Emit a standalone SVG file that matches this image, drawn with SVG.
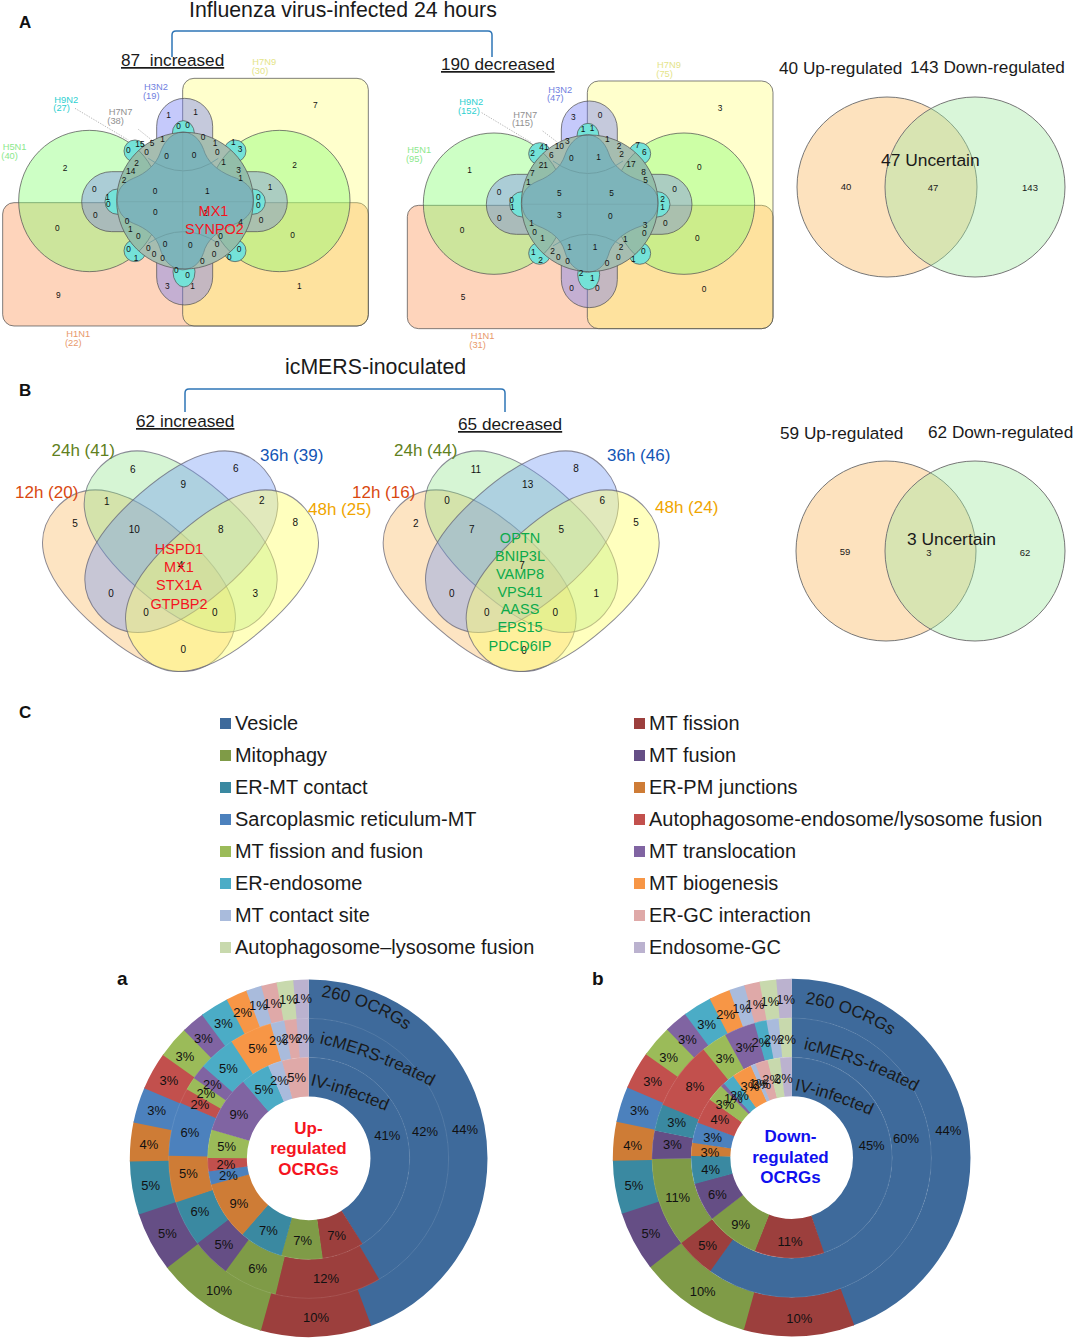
<svg xmlns="http://www.w3.org/2000/svg" xmlns:xlink="http://www.w3.org/1999/xlink" width="1073" height="1339" viewBox="0 0 1073 1339">
<style>
text{font-family:"Liberation Sans",Arial,sans-serif;fill:#1a1a1a}
.n{font-size:25px;text-anchor:middle;dominant-baseline:central;fill:#111}
.n4{font-size:30px;text-anchor:middle;dominant-baseline:central;fill:#111}
.p{font-size:39px;text-anchor:middle;dominant-baseline:central;fill:#111}
.arc{font-size:51px;fill:#1a1a1a}
.s{font-size:28px}
.h{font-size:21.3px}
.u{font-size:17.2px;text-decoration:underline}
.t{font-size:17.2px}
.unc{font-size:17.4px}
.m{font-size:9.500px;text-anchor:middle;dominant-baseline:central}
.tl{font-size:17px}
.panel{font-size:17px;font-weight:bold;fill:#111}
.lg{font-size:19.95px}
.ctr{font-size:17px;font-weight:bold;text-anchor:middle}
.gr{font-size:14.5px;text-anchor:middle;fill:#0BAA4B}
.rd{font-size:14.5px;text-anchor:middle;fill:#F5141E}
.ln{stroke:#555;stroke-opacity:.75;stroke-width:3}
.e{stroke:#667;stroke-opacity:.75;stroke-width:3}
.bracket{fill:none;stroke:#2E75B6;stroke-width:1.5}
.dot{stroke:#aaa;stroke-width:2.5;stroke-dasharray:4 4;fill:none}
circle.r{fill:none;transform:rotate(-90deg);transform-box:view-box;transform-origin:0 0}
.r1{stroke-width:118px}.r2{stroke-width:118px}.r3{stroke-width:118px}
.c1{stroke:#3E6A9B}.c2{stroke:#9C3F3D}.c3{stroke:#7F9B47}.c4{stroke:#654E85}.c5{stroke:#3A89A1}.c6{stroke:#CE7C36}
.c7{stroke:#4C81BD}.c8{stroke:#C2504D}.c9{stroke:#9BBB59}.c10{stroke:#8064A2}.c11{stroke:#4BACC6}.c12{stroke:#F79646}
.c13{stroke:#A9BBDC}.c14{stroke:#DFA9A8}.c15{stroke:#C8D9AD}.c16{stroke:#BBB2CF}
.f1{fill:#3E6A9B}.f2{fill:#9C3F3D}.f3{fill:#7F9B47}.f4{fill:#654E85}.f5{fill:#3A89A1}.f6{fill:#CE7C36}
.f7{fill:#4C81BD}.f8{fill:#C2504D}.f9{fill:#9BBB59}.f10{fill:#8064A2}.f11{fill:#4BACC6}.f12{fill:#F79646}
.f13{fill:#A9BBDC}.f14{fill:#DFA9A8}.f15{fill:#C8D9AD}.f16{fill:#BBB2CF}
</style>
<defs>
<clipPath id="cc"><circle cx="555" cy="452" r="205"/></clipPath>
<g id="venn6">
<rect x="8" y="458" width="1097" height="370" rx="34" fill="#FDAA78" fill-opacity=".5" class="ln"/>
<rect x="548" y="85" width="557" height="743" rx="34" fill="#FFFF64" fill-opacity=".33" class="ln"/>
<circle cx="268" cy="453" r="212" fill="#82FF6E" fill-opacity=".4" class="ln"/>
<circle cx="838" cy="453" r="212" fill="#82FF6E" fill-opacity=".4" class="ln"/>
<rect x="245" y="365" width="617" height="180" rx="90" fill="#5C58FF" fill-opacity=".3" class="ln"/>
<rect x="470" y="145" width="168" height="620" rx="84" fill="#6E78F5" fill-opacity=".4" class="ln"/>
<g fill="#74E2D8" class="ln">
<circle cx="405" cy="303" r="33"/><circle cx="705" cy="303" r="33"/><circle cx="405" cy="602" r="33"/><circle cx="705" cy="602" r="33"/>
<circle cx="353" cy="455" r="38"/><circle cx="758" cy="455" r="38"/>
<ellipse cx="550" cy="250" rx="33" ry="38"/><ellipse cx="552" cy="665" rx="33" ry="46"/>
</g>
<circle cx="555" cy="452" r="205" fill="#A6BDB0"/>
<g clip-path="url(#cc)" fill="#78C0A0" fill-opacity=".4" stroke="#6b8f88" stroke-width="2.5">
<circle cx="268" cy="453" r="212"/><circle cx="838" cy="453" r="212"/>
</g>
<path d="M352 450C352 420 365 400 400 385C440 370 470 340 480 310C490 280 510 250 548 245C590 250 605 280 615 310C630 345 665 370 710 385C745 400 760 420 760 450C760 480 745 505 710 520C665 535 630 560 615 595C605 630 590 655 548 660C510 655 490 630 480 595C470 560 440 535 400 520C365 505 352 480 352 450Z" fill="#7DB4BA" stroke="#6a8d92" stroke-width="2.5"/>
<path d="M445 325Q550 400 655 325M445 580Q550 510 655 580" fill="none" stroke="#6b9ba0" stroke-width="2.5"/>
<path d="M548 245V660M352 455H760" fill="none" stroke="#74a6ab" stroke-width="2"/>
<circle cx="555" cy="452" r="205" fill="none" class="ln"/>
</g>
<path id="eg" d="M-330 0C-330 -125 -216 -190 0 -190C216 -190 330 -125 330 0C330 125 216 190 0 190C-216 190 -330 125 -330 0Z"/>
<g id="ell4">
<use href="#eg" transform="translate(327 482) rotate(41)" fill="#FABE6E" fill-opacity=".42" class="e"/>
<use href="#eg" transform="translate(452 365) rotate(41)" fill="#82E17D" fill-opacity=".33" class="e"/>
<use href="#eg" transform="translate(454 365) rotate(-41)" fill="#6E96F5" fill-opacity=".38" class="e"/>
<use href="#eg" transform="translate(576 482) rotate(-41)" fill="#FFFF6E" fill-opacity=".45" class="e"/>
</g>
<g id="outerRing">
<circle class="r r3 c1" r="477.5" pathLength="100" stroke-dasharray="44.4 100"/>
<circle class="r r3 c2" r="477.5" pathLength="100" stroke-dasharray="10.1 100" stroke-dashoffset="-44.3"/>
<circle class="r r3 c3" r="477.5" pathLength="100" stroke-dasharray="10.3 100" stroke-dashoffset="-54.3"/>
<circle class="r r3 c4" r="477.5" pathLength="100" stroke-dasharray="5.5 100" stroke-dashoffset="-64.5"/>
<circle class="r r3 c5" r="477.5" pathLength="100" stroke-dasharray="4.9 100" stroke-dashoffset="-69.9"/>
<circle class="r r3 c6" r="477.5" pathLength="100" stroke-dasharray="3.6 100" stroke-dashoffset="-74.7"/>
<circle class="r r3 c7" r="477.5" pathLength="100" stroke-dasharray="3.3 100" stroke-dashoffset="-78.2"/>
<circle class="r r3 c8" r="477.5" pathLength="100" stroke-dasharray="3.5 100" stroke-dashoffset="-81.4"/>
<circle class="r r3 c9" r="477.5" pathLength="100" stroke-dasharray="3 100" stroke-dashoffset="-84.8"/>
<circle class="r r3 c10" r="477.5" pathLength="100" stroke-dasharray="2.2 100" stroke-dashoffset="-87.7"/>
<circle class="r r3 c11" r="477.5" pathLength="100" stroke-dasharray="2.7 100" stroke-dashoffset="-89.8"/>
<circle class="r r3 c12" r="477.5" pathLength="100" stroke-dasharray="2 100" stroke-dashoffset="-92.4"/>
<circle class="r r3 c13" r="477.5" pathLength="100" stroke-dasharray="1.5 100" stroke-dashoffset="-94.3"/>
<circle class="r r3 c14" r="477.5" pathLength="100" stroke-dasharray="1.5 100" stroke-dashoffset="-95.7"/>
<circle class="r r3 c15" r="477.5" pathLength="100" stroke-dasharray="1.6 100" stroke-dashoffset="-97.1"/>
<circle class="r r3 c16" r="477.5" pathLength="100" stroke-dasharray="1.4 100" stroke-dashoffset="-98.6"/>
</g>
<path id="a1" d="M603 65Q745 85 868 172"/>
<path id="a2" d="M598 205Q780 250 944 340"/>
<path id="a3" d="M570 330Q690 360 808 412"/>
<path id="b1" d="M585 85Q725 105 852 187"/>
<path id="b2" d="M580 222Q760 265 925 355"/>
<path id="b3" d="M553 345Q670 370 795 427"/>
</defs>

<rect width="1073" height="1339" fill="#fff"/>

<g id="connectors">
<path class="bracket" d="M172 57V35Q172 31 176 31H488Q492 31 492 35V57"/>
<path class="bracket" d="M185 412V393Q185 389 189 389H501Q505 389 505 393V412"/>
<g transform="translate(0,50) scale(.33333)">
<path class="dot" d="M225 175L385 270M415 238L455 270"/>
</g>
<g transform="translate(400,50) scale(.33333)">
<path class="dot" d="M245 188L395 278M428 243L470 275"/>
</g>
</g>

<g id="titles">
<text class="panel" x="19" y="28">A</text>
<text class="panel" x="19" y="396">B</text>
<text class="panel" x="19" y="718">C</text>
<text class="h" x="189" y="17">Influenza virus-infected 24 hours</text>
<text class="h" x="285" y="374">icMERS-inoculated</text>
<text class="u" x="121" y="66" xml:space="preserve">87  increased</text>
<text class="u" x="441" y="70">190 decreased</text>
<text class="u" x="136" y="427">62 increased</text>
<text class="u" x="458" y="430">65 decreased</text>
</g>

<g id="venn-increased" transform="translate(0,50) scale(.33333)">
<use href="#venn6"/>
<text class="n" x="946" y="166">7</text><text class="n" x="195" y="353">2</text><text class="n" x="884" y="345">2</text><text class="n" x="506" y="195">1</text><text class="n" x="587" y="187">1</text><text class="n" x="536" y="228">0</text><text class="n" x="563" y="226">0</text><text class="n" x="488" y="266">1</text><text class="n" x="609" y="262">0</text><text class="n" x="645" y="280">1</text><text class="n" x="700" y="276">1</text><text class="n" x="720" y="298">3</text><text class="n" x="420" y="283">15</text><text class="n" x="456" y="279">5</text><text class="n" x="385" y="300">0</text><text class="n" x="440" y="307">0</text><text class="n" x="500" y="318">0</text><text class="n" x="582" y="314">0</text><text class="n" x="652" y="306">0</text><text class="n" x="671" y="335">1</text><text class="n" x="410" y="338">2</text><text class="n" x="392" y="362">14</text><text class="n" x="716" y="360">3</text><text class="n" x="722" y="383">1</text><text class="n" x="372" y="390">2</text><text class="n" x="810" y="410">1</text><text class="n" x="283" y="418">0</text><text class="n" x="465" y="422">0</text><text class="n" x="622" y="422">1</text><text class="n" x="323" y="442">1</text><text class="n" x="325" y="462">0</text><text class="n" x="775" y="440">0</text><text class="n" x="775" y="466">0</text><text class="n" x="466" y="487">0</text><text class="n" x="617" y="490">2</text><text class="n" x="286" y="495">0</text><text class="n" x="381" y="512">0</text><text class="n" x="722" y="515">4</text><text class="n" x="783" y="511">0</text><text class="n" x="391" y="538">1</text><text class="n" x="172" y="533">0</text><text class="n" x="878" y="556">0</text><text class="n" x="415" y="557">0</text><text class="n" x="662" y="558">0</text><text class="n" x="495" y="583">0</text><text class="n" x="571" y="585">0</text><text class="n" x="651" y="583">0</text><text class="n" x="445" y="594">0</text><text class="n" x="386" y="598">0</text><text class="n" x="717" y="596">0</text><text class="n" x="642" y="613">0</text><text class="n" x="462" y="612">0</text><text class="n" x="488" y="625">0</text><text class="n" x="607" y="632">0</text><text class="n" x="688" y="620">0</text><text class="n" x="408" y="623">1</text><text class="n" x="529" y="661">0</text><text class="n" x="563" y="676">0</text><text class="n" x="502" y="708">3</text><text class="n" x="578" y="708">1</text><text class="n" x="898" y="709">1</text><text class="n" x="175" y="734">9</text>
<g class="s">
<text class="s" x="8" y="301" style="fill:#8CE88C">H5N1</text><text class="s" x="4" y="328" style="fill:#8CE88C">(40)</text>
<text class="s" x="163" y="158" style="fill:#2ED0D0">H9N2</text><text class="s" x="160" y="184" style="fill:#2ED0D0">(27)</text>
<text class="s" x="326" y="196" style="fill:#909090">H7N7</text><text class="s" x="322" y="222" style="fill:#909090">(38)</text>
<text class="s" x="432" y="121" style="fill:#7080E0">H3N2</text><text class="s" x="429" y="146" style="fill:#7080E0">(19)</text>
<text class="s" x="757" y="46" style="fill:#E4E488">H7N9</text><text class="s" x="755" y="72" style="fill:#E4E488">(30)</text>
<text class="s" x="199" y="860" style="fill:#E8986A">H1N1</text><text class="s" x="195" y="887" style="fill:#E8986A">(22)</text>
</g>
</g>
<g id="genes-a"><text class="rd" x="213.500" y="216">MX1</text><text class="rd" x="214.500" y="234">SYNPO2</text></g>

<g id="venn-decreased" transform="translate(400,50) scale(.33333)">
<use href="#venn6" x="14" y="8"/>
<text class="n" x="960" y="173">3</text><text class="n" x="209" y="361">1</text><text class="n" x="898" y="351">0</text><text class="n" x="520" y="201">3</text><text class="n" x="600" y="195">0</text><text class="n" x="549" y="236">1</text><text class="n" x="576" y="233">1</text><text class="n" x="502" y="273">3</text><text class="n" x="622" y="268">1</text><text class="n" x="657" y="288">2</text><text class="n" x="713" y="284">7</text><text class="n" x="733" y="305">6</text><text class="n" x="432" y="290">41</text><text class="n" x="478" y="287">10</text><text class="n" x="398" y="309">2</text><text class="n" x="454" y="315">6</text><text class="n" x="514" y="325">0</text><text class="n" x="596" y="321">1</text><text class="n" x="665" y="313">2</text><text class="n" x="693" y="343">17</text><text class="n" x="430" y="345">21</text><text class="n" x="397" y="368">7</text><text class="n" x="731" y="365">8</text><text class="n" x="737" y="390">5</text><text class="n" x="385" y="397">1</text><text class="n" x="824" y="417">0</text><text class="n" x="297" y="425">0</text><text class="n" x="478" y="429">5</text><text class="n" x="635" y="429">5</text><text class="n" x="335" y="449">0</text><text class="n" x="337" y="470">1</text><text class="n" x="788" y="447">2</text><text class="n" x="788" y="472">1</text><text class="n" x="478" y="495">3</text><text class="n" x="631" y="497">0</text><text class="n" x="298" y="503">0</text><text class="n" x="395" y="519">1</text><text class="n" x="735" y="524">3</text><text class="n" x="796" y="518">0</text><text class="n" x="404" y="545">0</text><text class="n" x="733" y="550">0</text><text class="n" x="428" y="565">1</text><text class="n" x="676" y="566">1</text><text class="n" x="186" y="540">0</text><text class="n" x="892" y="563">0</text><text class="n" x="509" y="590">1</text><text class="n" x="585" y="592">1</text><text class="n" x="663" y="590">2</text><text class="n" x="458" y="602">2</text><text class="n" x="400" y="605">1</text><text class="n" x="730" y="603">0</text><text class="n" x="475" y="620">0</text><text class="n" x="503" y="632">0</text><text class="n" x="655" y="620">0</text><text class="n" x="621" y="640">0</text><text class="n" x="422" y="630">2</text><text class="n" x="700" y="627">1</text><text class="n" x="543" y="669">2</text><text class="n" x="577" y="683">1</text><text class="n" x="515" y="715">0</text><text class="n" x="592" y="715">0</text><text class="n" x="912" y="716">0</text><text class="n" x="189" y="741">5</text>
<text class="s" x="22" y="308" style="fill:#8CE88C">H5N1</text><text class="s" x="18" y="335" style="fill:#8CE88C">(95)</text>
<text class="s" x="178" y="166" style="fill:#2ED0D0">H9N2</text><text class="s" x="174" y="192" style="fill:#2ED0D0">(152)</text>
<text class="s" x="340" y="203" style="fill:#909090">H7N7</text><text class="s" x="336" y="229" style="fill:#909090">(115)</text>
<text class="s" x="445" y="129" style="fill:#7080E0">H3N2</text><text class="s" x="441" y="154" style="fill:#7080E0">(47)</text>
<text class="s" x="771" y="53" style="fill:#E4E488">H7N9</text><text class="s" x="769" y="80" style="fill:#E4E488">(75)</text>
<text class="s" x="212" y="867" style="fill:#E8986A">H1N1</text><text class="s" x="208" y="893" style="fill:#E8986A">(31)</text>
</g>

<g id="venn2-a">
<circle cx="887" cy="187" r="90" fill="#FABE6E" fill-opacity=".45" stroke="#777" stroke-width="1"/>
<circle cx="975" cy="187" r="90" fill="#9FE8A0" fill-opacity=".4" stroke="#777" stroke-width="1"/>
<text class="t" x="779" y="74">40 Up-regulated</text>
<text class="t" x="910" y="73">143 Down-regulated</text>
<text class="unc" x="881" y="166">47 Uncertain</text>
<text class="m" x="846" y="186">40</text><text class="m" x="933" y="187">47</text><text class="m" x="1030" y="187">143</text>
</g>

<g id="venn4-increased" transform="translate(30,420) scale(.33333)">
<use href="#ell4"/>
<text class="n4" x="308" y="150">6</text><text class="n4" x="617" y="147">6</text><text class="n4" x="460" y="193">9</text><text class="n4" x="230" y="245">1</text><text class="n4" x="695" y="243">2</text><text class="n4" x="135" y="310">5</text><text class="n4" x="796" y="308">8</text><text class="n4" x="313" y="330">10</text><text class="n4" x="572" y="328">8</text><text class="n4" x="452" y="438">4</text><text class="n4" x="243" y="520">0</text><text class="n4" x="676" y="520">3</text><text class="n4" x="348" y="578">0</text><text class="n4" x="554" y="578">0</text><text class="n4" x="460" y="690">0</text>
</g>
<g id="genes-b1"><text class="rd" x="179" y="554">HSPD1</text><text class="rd" x="179" y="572">MX1</text><text class="rd" x="179" y="590">STX1A</text><text class="rd" x="179" y="609">GTPBP2</text></g>
<g id="labels-b1">
<text class="tl" x="51.500" y="456" style="fill:#5F8020">24h (41)</text><text class="tl" x="260" y="461" style="fill:#1255B5">36h (39)</text><text class="tl" x="15" y="498" style="fill:#D9480F">12h (20)</text><text class="tl" x="308" y="515" style="fill:#F0A500">48h (25)</text>
</g>

<g id="venn4-decreased" transform="translate(370,420) scale(.33333)">
<use href="#ell4" x="2"/>
<text class="n4" x="318" y="150">11</text><text class="n4" x="618" y="147">8</text><text class="n4" x="473" y="193">13</text><text class="n4" x="231" y="243">0</text><text class="n4" x="697" y="243">6</text><text class="n4" x="137" y="310">2</text><text class="n4" x="798" y="308">5</text><text class="n4" x="305" y="329">7</text><text class="n4" x="574" y="328">5</text><text class="n4" x="456" y="438">7</text><text class="n4" x="245" y="520">0</text><text class="n4" x="679" y="521">1</text><text class="n4" x="350" y="578">0</text><text class="n4" x="556" y="578">0</text><text class="n4" x="462" y="692">0</text>
</g>
<g id="genes-b2"><text class="gr" x="520" y="543">OPTN</text><text class="gr" x="520" y="561">BNIP3L</text><text class="gr" x="520" y="579">VAMP8</text><text class="gr" x="520" y="597">VPS41</text><text class="gr" x="520" y="614">AASS</text><text class="gr" x="520" y="632">EPS15</text><text class="gr" x="520" y="651">PDCD6IP</text></g>
<g id="labels-b2">
<text class="tl" x="394" y="456" style="fill:#5F8020">24h (44)</text><text class="tl" x="607" y="461" style="fill:#1255B5">36h (46)</text><text class="tl" x="352" y="498" style="fill:#D9480F">12h (16)</text><text class="tl" x="655" y="513" style="fill:#F0A500">48h (24)</text>
</g>

<g id="venn2-b">
<circle cx="886" cy="551" r="90" fill="#FABE6E" fill-opacity=".45" stroke="#777" stroke-width="1"/>
<circle cx="975" cy="551" r="90" fill="#9FE8A0" fill-opacity=".4" stroke="#777" stroke-width="1"/>
<text class="t" x="780" y="439">59 Up-regulated</text>
<text class="t" x="928" y="438">62 Down-regulated</text>
<text class="unc" x="907" y="545">3 Uncertain</text>
<text class="m" x="845" y="551">59</text><text class="m" x="929" y="552">3</text><text class="m" x="1025" y="552">62</text>
</g>

<g id="legend">
<rect class="f1" x="220" y="718" width="11" height="11"/><text class="lg" x="235" y="730">Vesicle</text>
<rect class="f3" x="220" y="750" width="11" height="11"/><text class="lg" x="235" y="762">Mitophagy</text>
<rect class="f5" x="220" y="782" width="11" height="11"/><text class="lg" x="235" y="794">ER-MT contact</text>
<rect class="f7" x="220" y="814" width="11" height="11"/><text class="lg" x="235" y="826">Sarcoplasmic reticulum-MT</text>
<rect class="f9" x="220" y="846" width="11" height="11"/><text class="lg" x="235" y="858">MT fission and fusion</text>
<rect class="f11" x="220" y="878" width="11" height="11"/><text class="lg" x="235" y="890">ER-endosome</text>
<rect class="f13" x="220" y="910" width="11" height="11"/><text class="lg" x="235" y="922">MT contact site</text>
<rect class="f15" x="220" y="942" width="11" height="11"/><text class="lg" x="235" y="954">Autophagosome–lysosome fusion</text>
<rect class="f2" x="634" y="718" width="11" height="11"/><text class="lg" x="649" y="730">MT fission</text>
<rect class="f4" x="634" y="750" width="11" height="11"/><text class="lg" x="649" y="762">MT fusion</text>
<rect class="f6" x="634" y="782" width="11" height="11"/><text class="lg" x="649" y="794">ER-PM junctions</text>
<rect class="f8" x="634" y="814" width="11" height="11"/><text class="lg" x="649" y="826">Autophagosome-endosome/lysosome fusion</text>
<rect class="f10" x="634" y="846" width="11" height="11"/><text class="lg" x="649" y="858">MT translocation</text>
<rect class="f12" x="634" y="878" width="11" height="11"/><text class="lg" x="649" y="890">MT biogenesis</text>
<rect class="f14" x="634" y="910" width="11" height="11"/><text class="lg" x="649" y="922">ER-GC interaction</text>
<rect class="f16" x="634" y="942" width="11" height="11"/><text class="lg" x="649" y="954">Endosome-GC</text>
</g>

<g id="pie-a">
<text class="panel" style="font-size:19px" x="117" y="985">a</text>
<g transform="translate(120,975) scale(.33333)">
<g transform="translate(566,550)">
<use href="#outerRing"/>
<circle class="r r2 c1" r="361.500" pathLength="100" stroke-dasharray="41.7 100"/>
<circle class="r r2 c2" r="361.500" pathLength="100" stroke-dasharray="12.3 100" stroke-dashoffset="-41.6"/>
<circle class="r r2 c3" r="361.500" pathLength="100" stroke-dasharray="6.4 100" stroke-dashoffset="-53.8"/>
<circle class="r r2 c4" r="361.500" pathLength="100" stroke-dasharray="4.6 100" stroke-dashoffset="-60.1"/>
<circle class="r r2 c5" r="361.500" pathLength="100" stroke-dasharray="5.4 100" stroke-dashoffset="-64.6"/>
<circle class="r r2 c6" r="361.500" pathLength="100" stroke-dasharray="5.5 100" stroke-dashoffset="-69.9"/>
<circle class="r r2 c7" r="361.500" pathLength="100" stroke-dasharray="6.3 100" stroke-dashoffset="-75.3"/>
<circle class="r r2 c8" r="361.500" pathLength="100" stroke-dasharray="1.8 100" stroke-dashoffset="-81.5"/>
<circle class="r r2 c9" r="361.500" pathLength="100" stroke-dasharray="1.6 100" stroke-dashoffset="-83.2"/>
<circle class="r r2 c10" r="361.500" pathLength="100" stroke-dasharray="1.8 100" stroke-dashoffset="-84.7"/>
<circle class="r r2 c11" r="361.500" pathLength="100" stroke-dasharray="4.4 100" stroke-dashoffset="-86.4"/>
<circle class="r r2 c12" r="361.500" pathLength="100" stroke-dasharray="5 100" stroke-dashoffset="-90.7"/>
<circle class="r r2 c13" r="361.500" pathLength="100" stroke-dasharray="1.7 100" stroke-dashoffset="-95.6"/>
<circle class="r r2 c14" r="361.500" pathLength="100" stroke-dasharray="1.5 100" stroke-dashoffset="-97.2"/>
<circle class="r r2 c16" r="361.500" pathLength="100" stroke-dasharray="1.4 100" stroke-dashoffset="-98.6"/>
<circle class="r r1 c1" r="244.500" pathLength="100" stroke-dasharray="41.1 100"/>
<circle class="r r1 c2" r="244.500" pathLength="100" stroke-dasharray="6.8 100" stroke-dashoffset="-41"/>
<circle class="r r1 c3" r="244.500" pathLength="100" stroke-dasharray="6.7 100" stroke-dashoffset="-47.7"/>
<circle class="r r1 c5" r="244.500" pathLength="100" stroke-dasharray="7.1 100" stroke-dashoffset="-54.3"/>
<circle class="r r1 c6" r="244.500" pathLength="100" stroke-dasharray="9.5 100" stroke-dashoffset="-61.3"/>
<circle class="r r1 c7" r="244.500" pathLength="100" stroke-dasharray="2.2 100" stroke-dashoffset="-70.7"/>
<circle class="r r1 c8" r="244.500" pathLength="100" stroke-dasharray="2.3 100" stroke-dashoffset="-72.8"/>
<circle class="r r1 c9" r="244.500" pathLength="100" stroke-dasharray="4.6 100" stroke-dashoffset="-74.95"/>
<circle class="r r1 c10" r="244.500" pathLength="100" stroke-dasharray="9.2 100" stroke-dashoffset="-79.5"/>
<circle class="r r1 c11" r="244.500" pathLength="100" stroke-dasharray="4.8 100" stroke-dashoffset="-88.6"/>
<circle class="r r1 c13" r="244.500" pathLength="100" stroke-dasharray="2.4 100" stroke-dashoffset="-93.3"/>
<circle class="r r1 c14" r="244.500" pathLength="100" stroke-dasharray="4.4 100" stroke-dashoffset="-95.6"/>
<circle r="303" fill="none" stroke="#fff" stroke-opacity=".12" stroke-width="2.5"/>
<circle r="420" fill="none" stroke="#fff" stroke-opacity=".12" stroke-width="2.5"/>
</g>
<text class="p" x="1035" y="465">44%</text><text class="p" x="915" y="470">42%</text><text class="p" x="802" y="483">41%</text><text class="p" x="650" y="783">7%</text><text class="p" x="548" y="797">7%</text><text class="p" x="445" y="767">7%</text><text class="p" x="618" y="910">12%</text><text class="p" x="588" y="1028">10%</text><text class="p" x="297" y="947">10%</text><text class="p" x="413" y="880">6%</text><text class="p" x="312" y="810">5%</text><text class="p" x="142" y="775">5%</text><text class="p" x="240" y="710">6%</text><text class="p" x="357" y="685">9%</text><text class="p" x="92" y="632">5%</text><text class="p" x="205" y="595">5%</text><text class="p" x="325" y="603">2%</text><text class="p" x="318" y="568">2%</text><text class="p" x="87" y="510">4%</text><text class="p" x="320" y="515">5%</text><text class="p" x="210" y="473">6%</text><text class="p" x="110" y="407">3%</text><text class="p" x="357" y="418">9%</text><text class="p" x="240" y="390">2%</text><text class="p" x="147" y="316">3%</text><text class="p" x="258" y="357">2%</text><text class="p" x="277" y="330">2%</text><text class="p" x="325" y="280">5%</text><text class="p" x="432" y="343">5%</text><text class="p" x="478" y="318">2%</text><text class="p" x="530" y="307">5%</text><text class="p" x="195" y="245">3%</text><text class="p" x="250" y="190">3%</text><text class="p" x="310" y="145">3%</text><text class="p" x="368" y="113">2%</text><text class="p" x="413" y="222">5%</text><text class="p" x="475" y="198">2%</text><text class="p" x="513" y="190">2%</text><text class="p" x="555" y="190">2%</text><text class="p" x="415" y="93">1%</text><text class="p" x="458" y="85">1%</text><text class="p" x="505" y="75">1%</text><text class="p" x="548" y="72">1%</text>
<text class="arc"><textPath href="#a1">260 OCRGs</textPath></text>
<text class="arc"><textPath href="#a2">icMERS-treated</textPath></text>
<text class="arc"><textPath href="#a3">IV-infected</textPath></text>
</g>
<g style="fill:#F00"><text class="ctr" x="308.500" y="1134" style="fill:#F5141E">Up-</text><text class="ctr" x="308.500" y="1154" style="fill:#F5141E">regulated</text><text class="ctr" x="308.500" y="1175" style="fill:#F5141E">OCRGs</text></g>
</g>

<g id="pie-b">
<text class="panel" style="font-size:19px" x="592" y="985">b</text>
<g transform="translate(610,975) scale(.33333)">
<g transform="translate(545,548)">
<use href="#outerRing"/>
<circle class="r r2 c1" r="360.500" pathLength="100" stroke-dasharray="60 100"/>
<circle class="r r2 c2" r="360.500" pathLength="100" stroke-dasharray="4.7 100" stroke-dashoffset="-59.9"/>
<circle class="r r2 c3" r="360.500" pathLength="100" stroke-dasharray="10.4 100" stroke-dashoffset="-64.5"/>
<circle class="r r2 c4" r="360.500" pathLength="100" stroke-dasharray="3.3 100" stroke-dashoffset="-74.85"/>
<circle class="r r2 c5" r="360.500" pathLength="100" stroke-dasharray="3.2 100" stroke-dashoffset="-78.1"/>
<circle class="r r2 c8" r="360.500" pathLength="100" stroke-dasharray="8 100" stroke-dashoffset="-81.2"/>
<circle class="r r2 c9" r="360.500" pathLength="100" stroke-dasharray="3.1 100" stroke-dashoffset="-89.1"/>
<circle class="r r2 c10" r="360.500" pathLength="100" stroke-dasharray="3.7 100" stroke-dashoffset="-92.1"/>
<circle class="r r2 c11" r="360.500" pathLength="100" stroke-dasharray="1.5 100" stroke-dashoffset="-95.7"/>
<circle class="r r2 c13" r="360.500" pathLength="100" stroke-dasharray="1.5 100" stroke-dashoffset="-97.1"/>
<circle class="r r2 c15" r="360.500" pathLength="100" stroke-dasharray="1.5 100" stroke-dashoffset="-98.5"/>
<circle class="r r1 c1" r="243" pathLength="100" stroke-dasharray="44.8 100"/>
<circle class="r r1 c2" r="243" pathLength="100" stroke-dasharray="11.3 100" stroke-dashoffset="-44.7"/>
<circle class="r r1 c3" r="243" pathLength="100" stroke-dasharray="8.7 100" stroke-dashoffset="-55.9"/>
<circle class="r r1 c4" r="243" pathLength="100" stroke-dasharray="6.3 100" stroke-dashoffset="-64.5"/>
<circle class="r r1 c5" r="243" pathLength="100" stroke-dasharray="4.6 100" stroke-dashoffset="-70.7"/>
<circle class="r r1 c6" r="243" pathLength="100" stroke-dasharray="2.2 100" stroke-dashoffset="-75.2"/>
<circle class="r r1 c7" r="243" pathLength="100" stroke-dasharray="3.4 100" stroke-dashoffset="-77.3"/>
<circle class="r r1 c8" r="243" pathLength="100" stroke-dasharray="4.2 100" stroke-dashoffset="-80.6"/>
<circle class="r r1 c9" r="243" pathLength="100" stroke-dasharray="2.9 100" stroke-dashoffset="-84.7"/>
<circle class="r r1 c10" r="243" pathLength="100" stroke-dasharray=".7 100" stroke-dashoffset="-87.5"/>
<circle class="r r1 c11" r="243" pathLength="100" stroke-dasharray="2 100" stroke-dashoffset="-88.1"/>
<circle class="r r1 c12" r="243" pathLength="100" stroke-dasharray="3.3 100" stroke-dashoffset="-90"/>
<circle class="r r1 c13" r="243" pathLength="100" stroke-dasharray=".9 100" stroke-dashoffset="-93.2"/>
<circle class="r r1 c14" r="243" pathLength="100" stroke-dasharray="2.1 100" stroke-dashoffset="-94"/>
<circle class="r r1 c15" r="243" pathLength="100" stroke-dasharray="2.1 100" stroke-dashoffset="-96"/>
<circle class="r r1 c16" r="243" pathLength="100" stroke-dasharray="2 100" stroke-dashoffset="-98"/>
<circle r="301" fill="none" stroke="#fff" stroke-opacity=".12" stroke-width="2.5"/>
<circle r="419" fill="none" stroke="#fff" stroke-opacity=".12" stroke-width="2.5"/>
</g>
<text class="p" x="1015" y="468">44%</text><text class="p" x="888" y="490">60%</text><text class="p" x="785" y="512">45%</text><text class="p" x="540" y="800">11%</text><text class="p" x="392" y="748">9%</text><text class="p" x="293" y="812">5%</text><text class="p" x="568" y="1030">10%</text><text class="p" x="278" y="950">10%</text><text class="p" x="123" y="777">5%</text><text class="p" x="203" y="667">11%</text><text class="p" x="322" y="660">6%</text><text class="p" x="72" y="633">5%</text><text class="p" x="302" y="585">4%</text><text class="p" x="300" y="533">3%</text><text class="p" x="68" y="512">4%</text><text class="p" x="187" y="510">3%</text><text class="p" x="308" y="487">3%</text><text class="p" x="200" y="442">3%</text><text class="p" x="88" y="408">3%</text><text class="p" x="330" y="435">4%</text><text class="p" x="255" y="335">8%</text><text class="p" x="128" y="320">3%</text><text class="p" x="345" y="390">3%</text><text class="p" x="370" y="370">1%</text><text class="p" x="388" y="362">2%</text><text class="p" x="420" y="335">3%</text><text class="p" x="445" y="325">1%</text><text class="p" x="455" y="330">3%</text><text class="p" x="485" y="315">2%</text><text class="p" x="520" y="310">2%</text><text class="p" x="176" y="248">3%</text><text class="p" x="232" y="195">3%</text><text class="p" x="290" y="150">3%</text><text class="p" x="345" y="250">3%</text><text class="p" x="405" y="217">3%</text><text class="p" x="347" y="120">2%</text><text class="p" x="453" y="203">2%</text><text class="p" x="490" y="195">2%</text><text class="p" x="530" y="195">2%</text><text class="p" x="395" y="100">1%</text><text class="p" x="435" y="88">1%</text><text class="p" x="480" y="80">1%</text><text class="p" x="527" y="75">1%</text>
<text class="arc"><textPath href="#b1">260 OCRGs</textPath></text>
<text class="arc"><textPath href="#b2">icMERS-treated</textPath></text>
<text class="arc"><textPath href="#b3">IV-infected</textPath></text>
</g>
<text class="ctr" x="790.500" y="1142" style="fill:#1010EE">Down-</text><text class="ctr" x="790.500" y="1163" style="fill:#1010EE">regulated</text><text class="ctr" x="790.500" y="1183" style="fill:#1010EE">OCRGs</text>
</g>
</svg>
